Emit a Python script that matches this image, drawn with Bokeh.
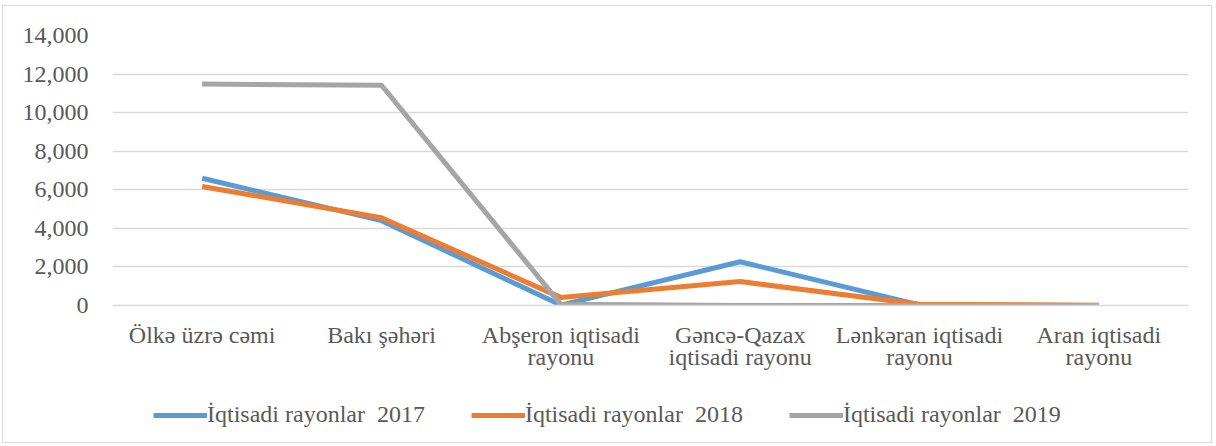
from bokeh.plotting import figure
from bokeh.layouts import column
from bokeh.models import Legend, LegendItem, NumeralTickFormatter, FixedTicker
from bokeh.embed import file_html
from bokeh.resources import INLINE

categories = ["Ölkə üzrə cəmi", "Bakı şəhəri", "Abşeron iqtisadi\nrayonu",
              "Gəncə-Qazax\niqtisadi rayonu", "Lənkəran iqtisadi\nrayonu", "Aran iqtisadi\nrayonu"]
series_names = ["İqtisadi rayonlar  2017", "İqtisadi rayonlar  2018", "İqtisadi rayonlar  2019"]
values_2017 = [6600, 4400, 20, 2270, 30, 0]
values_2018 = [6170, 4550, 420, 1240, 60, 10]
values_2019 = [11480, 11420, 60, 0, 0, 0]
y_ticks = [0, 2000, 4000, 6000, 8000, 10000, 12000, 14000]

colors = ["#5B9BD5", "#ED7D31", "#A5A5A5"]
FONT = "Liberation Serif"
CSS = ["text { font-family: 'Liberation Serif', 'Times New Roman', serif !important; }"]

p = figure(x_range=categories, y_range=(0, 14000), width=1208, height=379,
           output_backend="svg", toolbar_location=None,
           min_border_left=109, min_border_right=23, min_border_top=29, min_border_bottom=80)
p.stylesheets = CSS
p.outline_line_color = None
p.background_fill_color = "white"
p.border_fill_color = "white"

for vals, c in zip([values_2017, values_2018, values_2019], colors):
    p.line(categories, vals, line_color=c, line_width=5, line_join="round")

p.xgrid.grid_line_color = None
p.ygrid.grid_line_color = "#d9d9d9"
p.ygrid.grid_line_width = 1.5
p.yaxis.ticker = FixedTicker(ticks=y_ticks)
p.yaxis.formatter = NumeralTickFormatter(format="0,0")
for ax in [p.xaxis[0], p.yaxis[0]]:
    ax.major_tick_line_color = None
    ax.minor_tick_line_color = None
    ax.major_label_text_font = FONT
    ax.major_label_text_font_size = "24px"
    ax.major_label_text_color = "#595959"
    ax.major_label_text_line_height = 0.85
p.yaxis.axis_line_color = None
p.yaxis.major_label_standoff = 18
p.xaxis.axis_line_color = "#d9d9d9"
p.xaxis.axis_line_width = 1.5
p.xaxis.major_label_standoff = 10

# legend in its own strip below the chart
lg = figure(width=1208, height=57, output_backend="svg", toolbar_location=None,
            x_range=(0, 1), y_range=(0, 1), min_border=0,
            x_axis_location=None, y_axis_location=None)
lg.stylesheets = CSS
lg.grid.grid_line_color = None
lg.outline_line_color = None
lg.border_fill_color = "white"
leg_renderers = [lg.line([0, 1], [-5, -5], line_color=c, line_width=5) for c in colors]
legend = Legend(items=[LegendItem(label=n, renderers=[r]) for n, r in zip(series_names, leg_renderers)],
                orientation="horizontal", location=(41, 14),
                label_text_font=FONT, label_text_font_size="24px", label_text_color="#595959",
                glyph_width=54, glyph_height=20, spacing=46, border_line_color=None,
                background_fill_alpha=0, label_standoff=0, margin=0, padding=4)
lg.add_layout(legend, "center")

layout = column(p, lg, spacing=0)
layout.margin = (5, 0, 0, 2)
layout.styles = {"border": "1px solid #d9d9d9"}

open("out.html", "w").write(file_html(layout, INLINE))
